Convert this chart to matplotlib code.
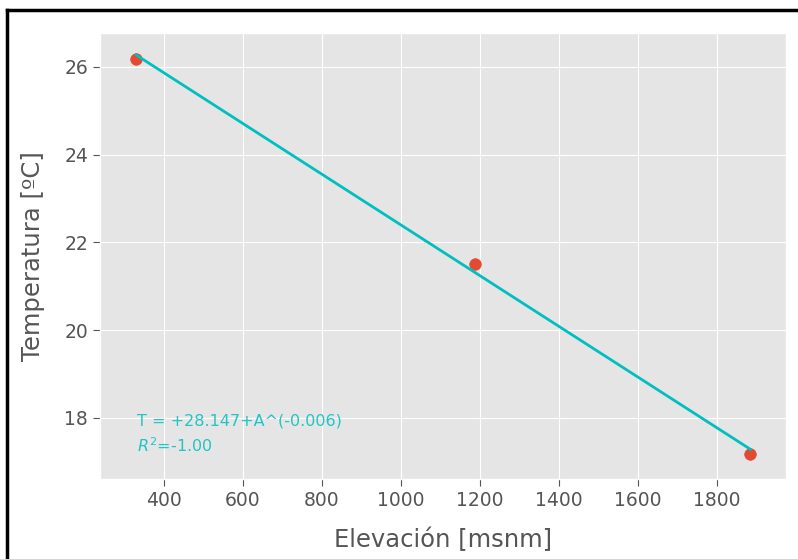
import matplotlib
matplotlib.use('Agg')
import matplotlib.pyplot as plt
import numpy as np
from matplotlib.lines import Line2D

plt.style.use('ggplot')

# datos
elevacion = [330, 1187, 1885]
temperatura = [26.18, 21.51, 17.18]
xticks = [400, 600, 800, 1000, 1200, 1400, 1600, 1800]
yticks = [18, 20, 22, 24, 26]

# ajuste lineal
pendiente, intercepto = np.polyfit(elevacion, temperatura, 1)
x_fit = np.array([min(elevacion), max(elevacion)])
y_fit = intercepto + pendiente * x_fit

fig = plt.figure(figsize=(7.98, 5.59), dpi=100)
ax = fig.add_axes([100 / 798, 80 / 559, 686 / 798, 446 / 559])

ax.scatter(elevacion, temperatura, color='#E24A33', s=70, zorder=3)
ax.plot(x_fit, y_fit, color='c', lw=2, zorder=4)

ax.set_xlim(238, 1975)
ax.set_ylim(16.61, 26.77)
ax.set_xticks(xticks)
ax.set_yticks(yticks)
ax.tick_params(labelsize=13.5, colors='#555555', length=5)
ax.set_xlabel('Elevación [msnm]', fontsize=17.5, color='#555555', labelpad=13)
ax.set_ylabel('Temperatura [ºC]', fontsize=17.5, color='#555555', labelpad=14)

ax.text(0.054, 0.13, 'T = +28.147+A^(-0.006)', transform=ax.transAxes,
        color='#22c4c4', fontsize=11.5, va='center')
ax.text(0.054, 0.074, '$R^2$=-1.00', transform=ax.transAxes,
        color='#22c4c4', fontsize=11.5, va='center')

# marco negro alrededor de la figura
fig.add_artist(Line2D([7 / 798, 7 / 798], [0, 1 - 10 / 559], color='black', lw=2.5))
fig.add_artist(Line2D([7 / 798, 1], [1 - 10 / 559, 1 - 10 / 559], color='black', lw=2.5))

fig.savefig('out.png', dpi=100)
